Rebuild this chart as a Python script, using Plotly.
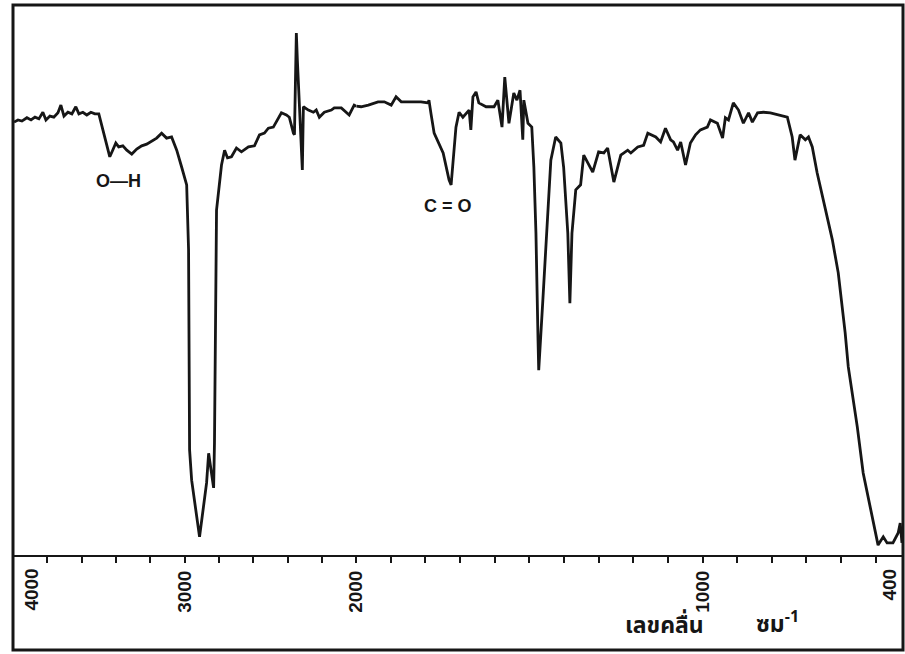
import plotly.graph_objects as go

# IR spectrum: wavenumber (cm^-1) and transmittance (%)
wavenumber = [
    3994, 3971, 3948, 3919, 3895, 3872, 3849, 3826, 3808, 3785, 3762, 3738,
    3721, 3703, 3680, 3657, 3634, 3616, 3593, 3570, 3546, 3523, 3500, 3465,
    3436, 3419, 3401, 3384, 3360, 3337, 3308, 3279, 3250, 3221, 3192, 3163,
    3134, 3105, 3076, 3046, 3017, 3000, 2988, 2977, 2971, 2959, 2942, 2913,
    2872, 2860, 2831, 2826, 2814, 2785, 2767, 2750, 2727, 2698, 2669, 2628,
    2593, 2564, 2535, 2512, 2483, 2465, 2436, 2407, 2390, 2366, 2360, 2349,
    2343, 2314, 2308, 2279, 2250, 2233, 2215, 2186, 2145, 2128, 2087, 2041,
    2012, 2000,
    1986, 1965, 1937, 1919, 1899, 1885, 1870, 1841, 1813, 1792, 1790, 1784,
    1775, 1749, 1732, 1726, 1712, 1703, 1692, 1674, 1669, 1663, 1654, 1646,
    1625, 1602, 1591, 1579, 1571, 1559, 1545, 1536, 1527, 1519, 1516, 1504,
    1493, 1487, 1481, 1475, 1473, 1461, 1438, 1424, 1409, 1401, 1389, 1383,
    1377, 1366, 1352, 1343, 1317, 1300, 1285, 1274, 1256, 1236, 1216, 1207,
    1187, 1170, 1158, 1135, 1121, 1107, 1092, 1084, 1072, 1063, 1049, 1035,
    1020, 1006, 986, 977, 957, 942, 934, 925, 911, 896, 882, 867,
    856, 841, 824, 804, 781, 755, 741, 733, 718, 703, 694, 683,
    669, 651, 625, 608, 588, 579, 553, 536, 507, 493, 478, 467,
    450, 435, 429, 424,
]
transmittance = [
    78.7, 79.1, 78.9, 79.5, 79.1, 79.6, 79.3, 80.5, 79.1, 79.8, 79.6, 80.4,
    81.8, 79.8, 80.5, 80.2, 81.5, 80.2, 80.5, 80.0, 80.5, 80.2, 80.2, 75.8,
    72.4, 73.6, 74.9, 74.2, 74.4, 73.6, 72.9, 73.8, 74.4, 74.7, 75.3, 75.8,
    76.7, 75.8, 76.0, 73.6, 70.5, 68.5, 67.3, 55.5, 19.1, 13.6, 10.0, 3.3,
    13.1, 18.5, 12.2, 20.4, 62.7, 70.9, 73.6, 72.2, 72.4, 74.0, 73.3, 74.2,
    74.4, 76.4, 76.7, 77.6, 77.8, 78.7, 80.4, 80.0, 79.6, 76.7, 76.4, 94.9,
    90.0, 70.0, 81.5, 80.9, 80.5, 80.9, 79.6, 80.5, 80.9, 81.3, 81.3, 80.0,
    81.8, 81.6,
    81.5, 81.8, 82.4, 82.4, 81.8, 83.3, 82.4, 82.4, 82.4, 82.2, 82.7, 80.2,
    76.7, 73.1, 68.2, 67.3, 77.8, 80.5, 79.6, 80.9, 77.3, 83.3, 84.2, 82.2,
    81.5, 81.5, 82.7, 77.8, 86.9, 78.5, 84.0, 82.7, 84.5, 75.5, 82.7, 78.5,
    77.8, 70.5, 58.5, 39.1, 33.6, 46.4, 71.8, 76.0, 74.9, 70.5, 58.5, 45.8,
    58.5, 66.4, 67.3, 72.7, 69.6, 73.3, 73.1, 74.0, 67.8, 72.7, 73.6, 73.1,
    74.2, 74.5, 76.7, 76.0, 75.1, 77.6, 75.5, 75.1, 73.6, 75.1, 70.9, 74.9,
    76.4, 77.3, 77.8, 79.1, 78.5, 75.8, 79.5, 79.1, 82.2, 80.9, 78.5, 80.4,
    78.7, 80.4, 80.5, 80.4, 80.0, 79.6, 76.0, 71.8, 76.4, 75.5, 76.0, 74.2,
    69.5, 64.5, 57.3, 51.3, 40.4, 34.2, 23.3, 14.9, 5.8, 1.8, 3.3, 2.2,
    2.2, 4.0, 5.8, 2.2,
]

upper_tickvals = [3800, 3600, 3400, 3200, 3000, 2800, 2600, 2400, 2200]
upper_ticktext = ["", "", "", "", "3000", "", "", "", ""]
lower_tickvals = [2000, 1900, 1800, 1700, 1600, 1500, 1400, 1300, 1200, 1100,
                  1000, 900, 800, 700, 600, 500]
lower_ticktext = ["2000", "", "", "", "", "", "", "", "", "",
                  "1000", "", "", "", "", ""]

axis_title_thai = "เลขคลื่น"
axis_unit_thai = "ซม<sup>-1</sup>"
peak_labels = [("O—H", 3384, 68.0, "x"), ("C = O", 1735, 63.5, "x2")]

up_x = [w for w in wavenumber if w >= 2000]
up_y = [t for w, t in zip(wavenumber, transmittance) if w >= 2000]
lo_x = [w for w in wavenumber if w <= 2000]
lo_y = [t for w, t in zip(wavenumber, transmittance) if w <= 2000]

ink = "#161616"
W, H = 905, 654
ml, mr, mt, mb = 11, 2, 5, 99
split = (355 - ml) / (W - ml - mr)

fig = go.Figure()
fig.add_trace(go.Scatter(x=up_x, y=up_y, mode="lines", xaxis="x", yaxis="y",
                         line=dict(color=ink, width=2.8), hoverinfo="skip"))
fig.add_trace(go.Scatter(x=lo_x, y=lo_y, mode="lines", xaxis="x2", yaxis="y",
                         line=dict(color=ink, width=2.8), hoverinfo="skip"))

tickfont = dict(family="Liberation Sans, Arial, sans-serif", size=19, color=ink,
                weight="bold")
common_axis = dict(showgrid=False, zeroline=False, showline=True, linecolor=ink,
                   linewidth=2, ticks="outside", ticklen=6, tickwidth=2,
                   tickcolor=ink, tickangle=-90, tickfont=tickfont)

fig.update_layout(
    width=W, height=H,
    margin=dict(l=ml, r=mr, t=mt, b=mb),
    paper_bgcolor="white", plot_bgcolor="white",
    showlegend=False,
    xaxis=dict(domain=[0, split], range=[4000, 2000], anchor="y",
               tickmode="array", tickvals=upper_tickvals, ticktext=upper_ticktext,
               **common_axis),
    xaxis2=dict(domain=[split, 1], range=[2000, 421], anchor="y",
                tickmode="array", tickvals=lower_tickvals, ticktext=lower_ticktext,
                **common_axis),
    yaxis=dict(range=[0, 100], visible=False),
)

# outer frame
fig.add_shape(type="rect", xref="paper", yref="paper",
              x0=0, x1=1, y0=-(650 - 555) / 550, y1=1,
              line=dict(color=ink, width=3))

# end labels of the axis
fig.add_annotation(x=4000, xref="x", y=-0.022, yref="paper", text="4000",
                   textangle=-90, showarrow=False, xanchor="left", yanchor="top",
                   xshift=6, font=tickfont)
fig.add_annotation(x=1.0, xref="paper", y=-0.022, yref="paper", text="400",
                   textangle=-90, showarrow=False, xanchor="right", yanchor="top",
                   xshift=-1, font=tickfont)

for txt, xv, yv, xr in peak_labels:
    fig.add_annotation(x=xv, xref=xr, y=yv, yref="y", text=txt, showarrow=False,
                       font=dict(family="Liberation Sans, Arial, sans-serif",
                                 size=18, color=ink, weight="bold"))

thai_font = dict(family="Noto Sans Thai, Loma, Garuda, Noto Sans, sans-serif",
                 size=23, color=ink, weight="bold")
fig.add_annotation(x=1230, xref="x2", y=-0.13, yref="paper", text=axis_title_thai,
                   showarrow=False, xanchor="left", yanchor="middle", font=thai_font)
fig.add_annotation(x=850, xref="x2", y=-0.124, yref="paper", text=axis_unit_thai,
                   showarrow=False, xanchor="left", yanchor="middle", font=thai_font)

fig.write_html("out.html", config={"displayModeBar": False},
               post_script="document.body.style.margin='0px';")
